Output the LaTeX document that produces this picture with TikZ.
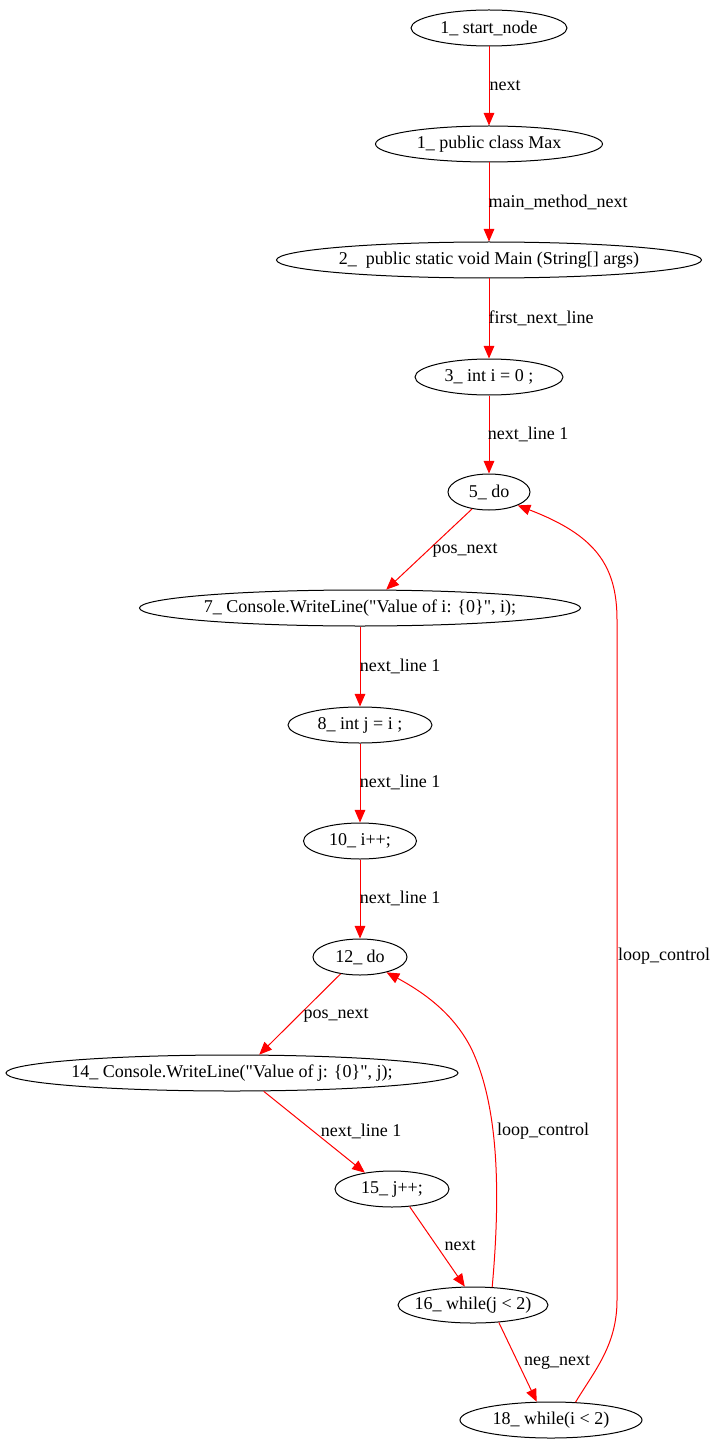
\documentclass[tikz,border=0pt]{standalone}
\usepackage{fontspec}
\setmainfont{Liberation Serif}[Ligatures=TeXOff]
\usetikzlibrary{shapes.geometric,arrows.meta}
\newcommand{\zt}[1]{\makebox[0pt]{#1}}
\begin{document}
\begin{tikzpicture}[x=0.75pt,y=-0.75pt,
 st/.style={draw=black, line width=0.75pt, ellipse, inner sep=0pt, minimum height=27pt, font=\fontsize{13.5}{16}\selectfont},
 ed/.style={draw=red, line width=0.75pt, -{Triangle[length=9.5pt,width=8pt]}},
 lb/.style={font=\fontsize{13.5}{16}\selectfont, inner sep=0pt}]
\useasboundingbox (0,0) rectangle (716,1451);
\node[st, minimum width=117pt] (n1) at (489,28) {\zt{1\_ start\_node}};
\node[st, minimum width=170.25pt] (n2) at (489,144) {\zt{1\_ public class Max}};
\node[st, minimum width=318.75pt] (n3) at (489,260) {\zt{2\_ \ public static void Main (String[] args)}};
\node[st, minimum width=111pt] (n4) at (489,377) {\zt{3\_ int i = 0 ;}};
\node[st, minimum width=61.5pt] (n5) at (489,492) {\zt{5\_ do}};
\node[st, minimum width=330.75pt] (n7) at (360,608) {\zt{7\_ Console.WriteLine("Value of i: \{0\}", i);}};
\node[st, minimum width=108pt] (n8) at (360,725) {\zt{8\_ int j = i ;}};
\node[st, minimum width=84.75pt] (n10) at (360,841) {\zt{10\_ i++;}};
\node[st, minimum width=70.5pt] (n12) at (360,957) {\zt{12\_ do}};
\node[st, minimum width=339pt] (n14) at (232,1073) {\zt{14\_ Console.WriteLine("Value of j: \{0\}", j);}};
\node[st, minimum width=85.5pt] (n15) at (392,1189) {\zt{15\_ j++;}};
\node[st, minimum width=112.5pt] (n16) at (473,1305) {\zt{16\_ while(j < 2)}};
\node[st, minimum width=136.5pt] (n18) at (551,1420) {\zt{18\_ while(i < 2)}};

\draw[ed] (n1) -- (n2);
\draw[ed] (n2) -- (n3);
\draw[ed] (n3) -- (n4);
\draw[ed] (n4) -- (n5);
\draw[ed] (n5.225) -- (n7.35);
\draw[ed] (n7) -- (n8);
\draw[ed] (n8) -- (n10);
\draw[ed] (n10) -- (n12);
\draw[ed] (n12.221) -- (n14.34);
\draw[ed] (n14.-30) -- (n15.149);
\draw[ed] (n15.-45) -- (n16.114);
\draw[ed] (n16.-34) -- (n18.128);
\draw[ed] (n16.43) .. controls (500,1200) and (500,1110) .. (472,1050)
  .. controls (455,1015) and (425,993) .. (n12.-30);
\draw[ed] (n18.36) .. controls (595,1370) and (617,1345) .. (617,1300)
  -- (617,620) .. controls (617,565) and (595,535) .. (n5.-25);

\node[lb] (l1) at (505,86) {next};
\node[lb] (l2) at (558,202) {main\_method\_next};
\node[lb] (l3) at (541,318) {first\_next\_line};
\node[lb] (l4) at (528,434) {next\_line 1};
\node[lb] (l5) at (465,550) {pos\_next};
\node[lb] (l6) at (400,666) {next\_line 1};
\node[lb] (l7) at (400,782) {next\_line 1};
\node[lb] (l8) at (400,898) {next\_line 1};
\node[lb] (l9) at (336,1015) {pos\_next};
\node[lb] (l10) at (361,1131) {next\_line 1};
\node[lb] (l11) at (460,1246) {next};
\node[lb] (l12) at (557,1362) {neg\_next};
\node[lb] (l13) at (543,1131) {loop\_control};
\node[lb] (l14) at (664,956) {loop\_control};
\end{tikzpicture}
\end{document}
